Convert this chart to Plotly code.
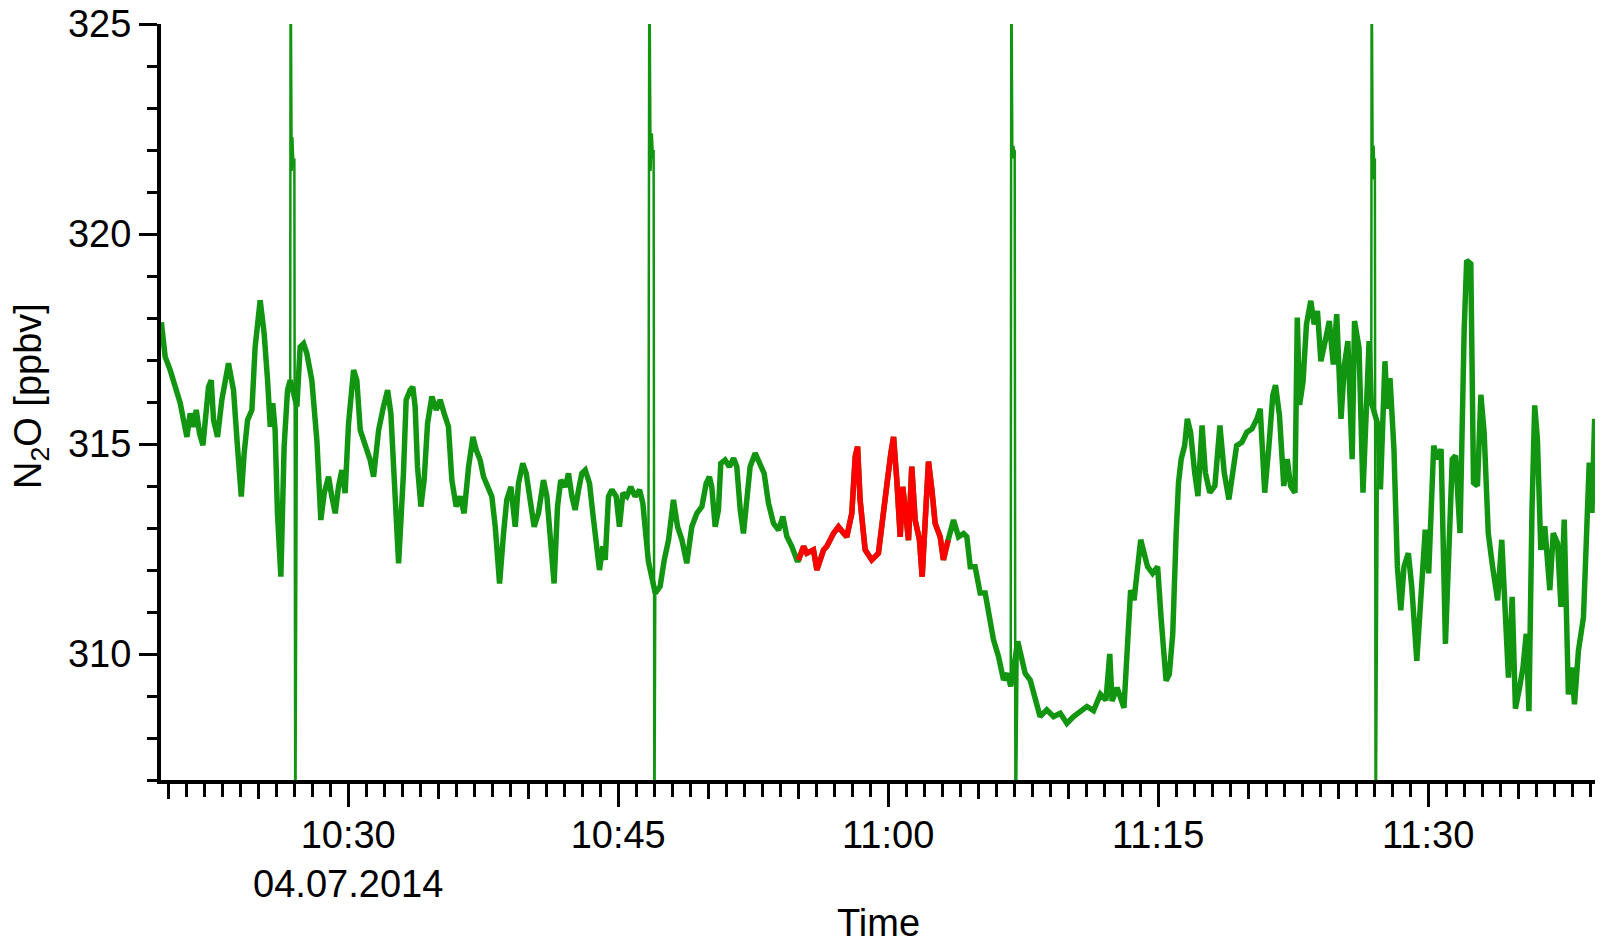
import numpy as np
import pandas as pd
import plotly.graph_objects as go

# ---- data (minutes after 10:00 on 04.07.2014, N2O in ppbv) ----
minutes = [
    19.62, 19.83, 20.11, 20.39, 20.67, 20.85, 21.04, 21.22, 21.41, 21.56, 21.74, 21.93, 22.11, 22.24, 22.39,
    22.52, 22.74, 22.98, 23.35, 23.63, 23.85, 24.06, 24.22, 24.41, 24.65, 24.83, 25.11, 25.33, 25.52, 25.67,
    25.81, 25.94, 26.07, 26.26, 26.44, 26.63, 26.78, 27.15, 27.33, 27.52, 27.70, 27.98, 28.26, 28.48, 28.67,
    28.91, 29.09, 29.28, 29.46, 29.65, 29.83, 30.02, 30.30, 30.48, 30.67, 30.94, 31.22, 31.41, 31.69, 31.96,
    32.19, 32.37, 32.56, 32.80, 33.07, 33.22, 33.44, 33.59, 33.72, 33.85, 34.04, 34.22, 34.41, 34.65, 34.89,
    35.11, 35.33, 35.57, 35.76, 36.00, 36.22, 36.44, 36.69, 36.93, 37.11, 37.33, 37.52, 37.74, 37.98, 38.17,
    38.41, 38.63, 38.81, 39.04, 39.28, 39.46, 39.70, 39.89, 40.11, 40.33, 40.57, 40.85, 41.04, 41.22, 41.44,
    41.63, 41.81, 42.06, 42.24, 42.43, 42.61, 42.80, 42.98, 43.17, 43.41, 43.59, 43.78, 43.96, 44.15, 44.28,
    44.46, 44.65, 44.89, 45.07, 45.26, 45.48, 45.70, 45.94, 46.19, 46.37, 46.50, 46.68, 47.06, 47.33, 47.56,
    47.80, 48.07, 48.30, 48.54, 48.81, 49.09, 49.37, 49.65, 49.89, 50.07, 50.20, 50.39, 50.57, 50.70, 50.94,
    51.18, 51.41, 51.59, 51.78, 51.96, 52.15, 52.33, 52.61, 52.89, 53.11, 53.35, 53.63, 53.91, 54.15, 54.37,
    54.65, 54.93, 55.02, 55.30, 55.48, 55.85, 56.04, 56.41, 56.59, 56.96, 57.24, 57.52, 57.70, 57.98, 58.17,
    58.30, 58.44, 58.72, 59.09, 59.46, 59.70, 59.96, 60.15, 60.30, 60.48, 60.67, 60.81, 61.00, 61.13, 61.31,
    61.50, 61.74, 61.89, 62.06, 62.24, 62.43, 62.61, 62.89, 63.07, 63.33, 63.63, 63.91, 64.19, 64.37, 64.56,
    64.83, 65.11, 65.39, 65.57, 65.85, 66.13, 66.41, 66.63, 66.81, 67.20, 67.37, 67.61, 67.89, 68.17, 68.44,
    68.81, 69.19, 69.56, 69.93, 70.30, 70.67, 71.04, 71.41, 71.79, 72.10, 72.31, 72.44, 72.72, 73.10, 73.29,
    73.47, 73.66, 73.85, 74.03, 74.22, 74.41, 74.69, 74.97, 75.16, 75.44, 75.62, 75.81, 76.00, 76.13, 76.28,
    76.47, 76.62, 76.80, 77.03, 77.21, 77.44, 77.62, 77.87, 78.15, 78.43, 78.67, 78.93, 79.18, 79.36, 79.65,
    79.93, 80.21, 80.49, 80.67, 80.92, 81.14, 81.37, 81.52, 81.74, 81.98, 82.17, 82.36, 82.60, 82.73, 82.86,
    83.05, 83.24, 83.48, 83.67, 83.85, 84.04, 84.28, 84.51, 84.73, 84.92, 85.16, 85.35, 85.54, 85.78, 85.91,
    86.16, 86.38, 86.53, 86.72, 86.84, 87.22, 87.35, 87.60, 87.73, 87.88, 88.10, 88.29, 88.48, 88.66, 88.90,
    89.09, 89.37, 89.60, 89.84, 90.03, 90.31, 90.53, 90.72, 90.96, 91.15, 91.34, 91.52, 91.77, 92.00, 92.14,
    92.37, 92.52, 92.74, 92.93, 93.11, 93.34, 93.58, 93.86, 94.09, 94.27, 94.46, 94.67, 94.85, 95.08, 95.27,
    95.45, 95.60, 95.77, 95.92, 96.07, 96.26, 96.48, 96.76, 96.95, 97.19, 97.38, 97.56, 97.79, 97.98, 98.13,
    98.35, 98.63, 98.82, 98.95, 99.10, 99.25,
]
n2o = [
    317.90, 317.08, 316.76, 316.36, 315.97, 315.57, 315.17, 315.73, 315.41, 315.81, 315.25, 314.97, 315.89, 316.36, 316.52,
    315.57, 315.17, 316.05, 316.92, 316.28, 314.93, 313.75, 314.78, 315.57, 315.81, 317.31, 318.42, 317.63, 316.52, 315.41,
    315.97, 315.33, 313.35, 311.84, 314.93, 316.28, 316.52, 315.89, 317.31, 317.39, 317.16, 316.52, 315.09, 313.19, 313.83,
    314.22, 313.75, 313.35, 313.98, 314.38, 313.83, 315.49, 316.76, 316.52, 315.33, 314.93, 314.62, 314.22, 315.33, 315.89,
    316.28, 315.73, 313.98, 312.16, 314.30, 316.05, 316.28, 316.36, 315.89, 314.46, 313.51, 314.14, 315.49, 316.13, 315.81,
    316.05, 315.73, 315.41, 314.14, 313.51, 313.75, 313.35, 314.46, 315.17, 314.86, 314.62, 314.22, 313.98, 313.75, 313.03,
    311.68, 312.87, 313.67, 313.98, 313.03, 314.06, 314.54, 314.30, 313.75, 313.03, 313.35, 314.14, 313.75, 312.72, 311.68,
    313.51, 314.14, 313.98, 314.30, 313.75, 313.43, 313.91, 314.30, 314.38, 314.06, 313.35, 312.48, 312.00, 312.56, 312.24,
    313.75, 313.91, 313.75, 313.03, 313.83, 313.75, 313.98, 313.75, 313.91, 313.59, 313.00, 312.20, 311.45, 311.61, 312.24,
    312.72, 313.67, 313.03, 312.72, 312.16, 313.03, 313.35, 313.51, 314.06, 314.22, 313.98, 313.03, 313.43, 314.54, 314.62,
    314.46, 314.66, 314.46, 313.43, 312.87, 313.67, 314.46, 314.78, 314.54, 314.30, 313.59, 313.11, 312.95, 313.27, 312.80,
    312.56, 312.24, 312.24, 312.56, 312.40, 312.48, 312.00, 312.48, 312.56, 312.87, 313.03, 312.87, 312.79, 313.35, 314.70,
    314.94, 313.67, 312.48, 312.24, 312.40, 313.35, 314.14, 314.78, 315.17, 314.14, 312.79, 313.98, 313.35, 312.71, 314.46,
    313.19, 312.71, 311.84, 313.19, 314.58, 313.90, 313.11, 312.79, 312.24, 312.71, 313.19, 312.79, 312.87, 312.79, 312.08,
    312.08, 311.45, 311.45, 310.97, 310.34, 309.94, 309.38, 309.54, 309.23, 310.30, 310.02, 309.54, 309.38, 308.91, 308.51,
    308.67, 308.51, 308.59, 308.35, 308.51, 308.62, 308.75, 308.65, 309.04, 308.90, 310.00, 308.88, 309.20, 308.72, 310.48,
    311.52, 311.28, 312.08, 312.72, 312.40, 312.08, 311.92, 312.08, 310.88, 309.36, 309.52, 310.48, 312.88, 314.08, 314.64,
    314.96, 315.60, 315.28, 314.32, 313.76, 315.44, 314.32, 313.84, 314.00, 315.44, 314.32, 313.68, 314.48, 314.96, 315.04,
    315.28, 315.36, 315.60, 315.84, 313.84, 314.88, 316.16, 316.40, 315.68, 314.00, 314.64, 314.00, 313.84, 318.01, 315.93,
    316.49, 317.85, 318.41, 317.85, 318.17, 316.97, 317.45, 317.93, 316.89, 318.09, 315.60, 316.89, 317.45, 314.64, 317.93,
    317.29, 313.84, 315.44, 317.45, 316.00, 315.44, 313.92, 316.97, 315.84, 316.57, 314.88, 312.08, 311.04, 312.08, 312.40,
    311.60, 309.84, 311.28, 312.96, 311.92, 314.96, 314.64, 314.88, 310.24, 312.88, 314.64, 314.72, 312.88, 317.69, 319.37,
    319.29, 314.08, 314.00, 316.17, 315.28, 312.88, 312.08, 311.28, 312.72, 311.28, 309.44, 311.36, 308.70, 309.20, 309.68,
    310.48, 308.64, 313.44, 315.92, 315.12, 312.48, 313.04, 311.52, 312.88, 312.64, 311.12, 313.20, 309.04, 309.68, 308.80,
    310.08, 310.88, 313.68, 314.56, 313.36, 315.60,
]

# calibration spikes (minutes, ppbv), each goes off-scale above and below
spike_minutes = [
    [26.78, 26.80, 26.86, 26.90, 26.96, 27.01, 27.06, 27.15],
    [46.68, 46.73, 46.80, 46.87, 46.93, 46.97, 47.01, 47.06],
    [66.81, 66.84, 66.90, 66.96, 67.00, 67.03, 67.07, 67.20],
    [86.84, 86.86, 86.92, 86.97, 87.01, 87.04, 87.08, 87.22],
]
spike_values = [
    [316.52, 327.0, 321.5, 322.3, 321.6, 321.8, 305.0, 315.89],
    [312.20, 327.0, 321.5, 322.4, 321.8, 322.0, 305.0, 311.45],
    [309.23, 327.0, 321.8, 322.1, 321.9, 322.0, 305.0, 310.30],
    [316.00, 327.0, 321.3, 322.1, 321.5, 321.8, 305.0, 315.44],
]

red_window = (55.0, 63.35)          # highlighted period (minutes after 10:00)
x_range_min = (19.6, 99.27)
y_range = (307, 325)
y_major = [310, 315, 320, 325]
x_major_min = [30, 45, 60, 75, 90]
x_major_text = ["10:30<br>04.07.2014", "10:45", "11:00", "11:15", "11:30"]

# ---- build ----
base = pd.Timestamp("2014-07-04 10:00:00")
to_time = lambda m: base + pd.to_timedelta(np.asarray(m, dtype=float), unit="m")

df = pd.DataFrame({"t": to_time(minutes), "m": minutes, "v": n2o})
red = df[(df.m >= red_window[0]) & (df.m <= red_window[1])]

GREEN = "rgb(18,150,18)"
RED = "rgb(255,0,0)"
FONT = "Arial, Liberation Sans, sans-serif"

fig = go.Figure()
fig.add_trace(go.Scatter(x=df.t, y=df.v, mode="lines", line=dict(color=GREEN, width=5.5),
                         showlegend=False, hoverinfo="skip"))
for sm, sv in zip(spike_minutes, spike_values):
    fig.add_trace(go.Scatter(x=to_time(sm), y=sv, mode="lines", line=dict(color=GREEN, width=2.5),
                             showlegend=False, hoverinfo="skip"))
fig.add_trace(go.Scatter(x=red.t, y=red.v, mode="lines", line=dict(color=RED, width=5.5),
                         showlegend=False, hoverinfo="skip", xaxis="x2"))

xr = [str(t) for t in to_time(list(x_range_min))]
fig.update_layout(
    width=1608, height=948,
    margin=dict(l=161, r=13, t=24, b=168),
    paper_bgcolor="white", plot_bgcolor="white",
    font=dict(family=FONT, color="black"),
    xaxis=dict(
        type="date", range=xr, automargin=False,
        tickmode="array", tickvals=list(to_time(x_major_min)), ticktext=x_major_text,
        ticks="outside", ticklen=23, tickwidth=3, tickcolor="black",
        ticklabelstandoff=-5,
        tickfont=dict(family=FONT, size=38, color="black"),
        showline=True, linecolor="black", linewidth=4,
        showgrid=False, zeroline=False,
        minor=dict(ticks="outside", ticklen=13, tickwidth=3, tickcolor="black",
                   tickmode="linear", tick0=str(base), dtick=60000, showgrid=False),
    ),
    xaxis2=dict(
        type="date", overlaying="x", matches="x", anchor="y", side="bottom", automargin=False,
        showticklabels=False, ticks="outside", ticklen=18, tickwidth=3, tickcolor="black",
        tickmode="linear", tick0=str(base), dtick=300000,
        showline=False, showgrid=False, zeroline=False,
    ),
    yaxis=dict(
        range=list(y_range), tickmode="array", tickvals=y_major, automargin=False,
        ticks="outside", ticklen=18, tickwidth=3, tickcolor="black",
        tickfont=dict(family=FONT, size=38, color="black"),
        showline=True, linecolor="black", linewidth=4,
        showgrid=False, zeroline=False,
        minor=dict(ticks="outside", ticklen=10, tickwidth=3, tickcolor="black",
                   tickmode="linear", tick0=0, dtick=1, showgrid=False),
    ),
    annotations=[
        dict(text="Time", xref="paper", yref="paper", x=0.5, y=0, xanchor="center", yanchor="middle",
             yshift=-143, showarrow=False, font=dict(family=FONT, size=38, color="black")),
        dict(text="N<sub>2</sub>O [ppbv]", xref="paper", yref="paper", x=0, y=0.5,
             xanchor="center", yanchor="middle", xshift=-130, yshift=6, textangle=-90,
             showarrow=False, font=dict(family=FONT, size=38, color="black")),
    ],
)

fig.write_html("out.html")
